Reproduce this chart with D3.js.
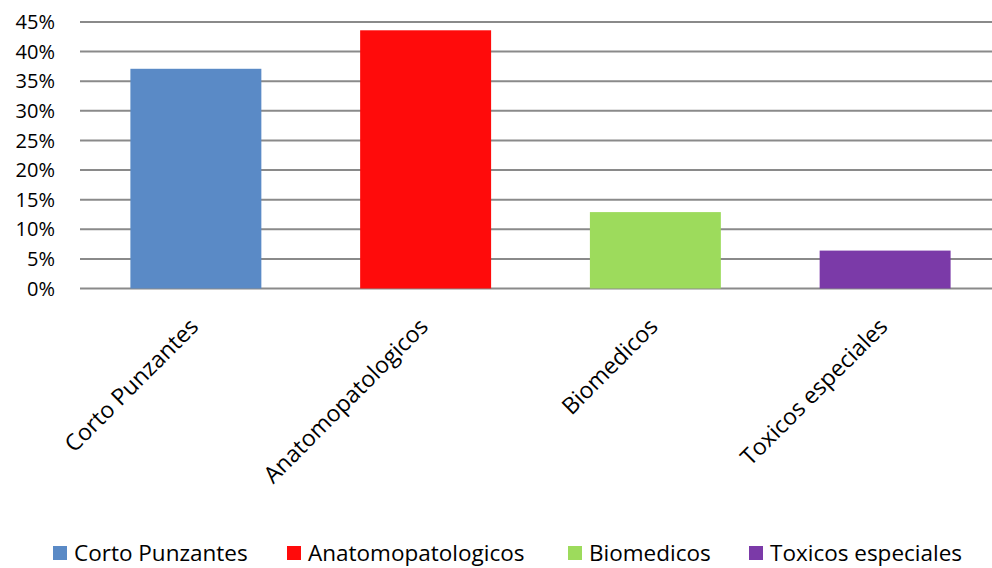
<!DOCTYPE html>
<html>
<head>
<meta charset="utf-8">
<script src="https://cdn.jsdelivr.net/npm/d3@7.9.0/dist/d3.min.js"></script>
<style>
  body { margin: 0; background: #fff; }
  svg text { font-family: "Open Sans", sans-serif; fill: #000; }
</style>
</head>
<body>
<svg id="chart" width="992" height="568"></svg>
<script>
// data
const categories = ['Corto Punzantes', 'Anatomopatologicos', 'Biomedicos', 'Toxicos especiales'];
const values = [0.371, 0.436, 0.129, 0.064];
const colorList = ['#5a8ac6', '#ff0b0b', '#9ddb5c', '#7b3aa8'];
const yTicks = [0, 0.05, 0.10, 0.15, 0.20, 0.25, 0.30, 0.35, 0.40, 0.45];

const svg = d3.select('#chart');

const x = d3.scaleBand()
  .domain(categories)
  .range([81, 1000])
  .paddingInner(0.43)
  .paddingOuter(0.215);

const y = d3.scaleLinear()
  .domain([0, 0.45])
  .range([288.5, 22]);

const color = d3.scaleOrdinal().domain(categories).range(colorList);

// gridlines
svg.append('g')
  .selectAll('line')
  .data(yTicks)
  .join('line')
  .attr('x1', 80)
  .attr('x2', 1000)
  .attr('y1', d => y(d))
  .attr('y2', d => y(d))
  .attr('stroke', '#8a8a8a')
  .attr('stroke-width', 2);

// y tick labels
svg.append('g')
  .selectAll('text')
  .data(yTicks)
  .join('text')
  .attr('x', 55)
  .attr('y', d => y(d))
  .attr('dy', '0.36em')
  .attr('text-anchor', 'end')
  .style('font-size', '20px')
  .text(d => d3.format('.0%')(d));

// bars
svg.append('g')
  .selectAll('rect')
  .data(values)
  .join('rect')
  .attr('x', (d, i) => x(categories[i]))
  .attr('width', x.bandwidth())
  .attr('y', d => y(d))
  .attr('height', d => y(0) - y(d))
  .attr('fill', (d, i) => color(categories[i]));

// x labels, rotated
svg.append('g')
  .selectAll('text')
  .data(categories)
  .join('text')
  .attr('transform', d => `translate(${x(d) + x.bandwidth() / 2 + 4},328) rotate(-45)`)
  .attr('text-anchor', 'end')
  .style('font-size', '23px')
  .text(d => d);

// legend
const legendX = [53, 287, 568, 749];
const legend = svg.append('g')
  .selectAll('g')
  .data(categories)
  .join('g')
  .attr('transform', (d, i) => `translate(${legendX[i]},546)`);

legend.append('rect')
  .attr('width', 14)
  .attr('height', 14)
  .attr('fill', d => color(d));

legend.append('text')
  .attr('x', 21)
  .attr('y', 7)
  .attr('dy', '0.36em')
  .style('font-size', '22.5px')
  .text(d => d);
</script>
</body>
</html>
